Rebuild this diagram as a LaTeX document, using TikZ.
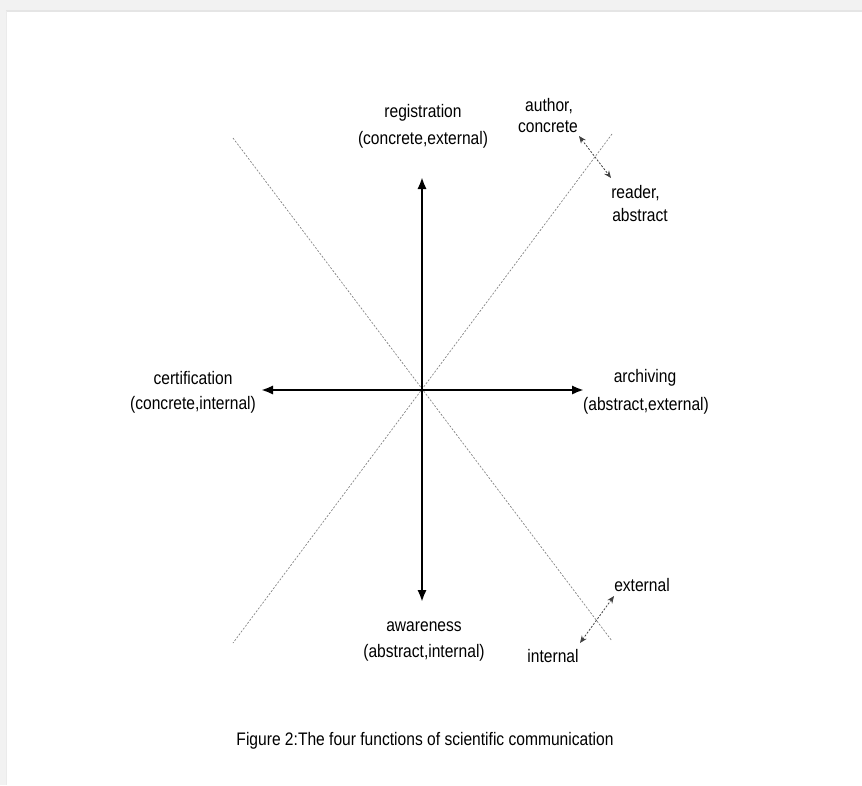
\documentclass[tikz,border=0pt]{standalone}
\usepackage{fontspec}
\setmainfont[FakeStretch=0.86]{Liberation Sans}
\usetikzlibrary{arrows.meta}
\begin{document}
\begin{tikzpicture}[x=0.75pt,y=-0.75pt,
  lbl/.style={inner sep=0pt,font=\fontsize{13.6pt}{16pt}\selectfont,align=center},
  mainarrow/.style={line width=2.1pt,{Latex[length=9pt,width=7pt]}-{Latex[length=9pt,width=7pt]}},
  diag/.style={line width=0.5pt,gray,dash pattern=on 1.5pt off 1.2pt},
  smallarrow/.style={line width=0.6pt,black!75,dash pattern=on 1.5pt off 1.2pt,{Stealth[length=5.5pt,width=4.5pt]}-{Stealth[length=5.5pt,width=4.5pt]}}]
\useasboundingbox (0,0) rectangle (862,785);
\fill[white] (0,0) rectangle (862,785);
\fill[black!5] (0,0) rectangle (862,11);
\fill[black!5] (0,0) rectangle (6,785);
\draw[black!10,line width=1pt] (6,11) -- (862,11);
\draw[black!8,line width=0.6pt] (6,11) -- (6,785);
% geometry
\coordinate (c) at (422,390);
\coordinate (top) at (422,177);
\coordinate (bot) at (422,602);
\coordinate (lft) at (261,390);
\coordinate (rgt) at (584,390);
\coordinate (d1a) at (233,138);
\coordinate (d1b) at (612,641);
\coordinate (d2a) at (612,134);
\coordinate (d2b) at (233,643);
\coordinate (s1a) at (579,136);
\coordinate (s1b) at (611,178);
\coordinate (s2a) at (614,596);
\coordinate (s2b) at (580,643);
\draw[diag] (d1a) -- (d1b);
\draw[diag] (d2a) -- (d2b);
\draw[mainarrow] (top) -- (bot);
\draw[mainarrow] (lft) -- (rgt);
\draw[smallarrow] (s1a) -- (s1b);
\draw[smallarrow] (s2a) -- (s2b);
% labels
\node[lbl] (reg) at (423,113) {registration};
\node[lbl] (reg2) at (423,140) {(concrete,external)};
\node[lbl] (auth) at (549,106) {author,};
\node[lbl] (auth2) at (548,127) {concrete};
\node[lbl,anchor=west] (read) at (611,193) {reader,};
\node[lbl,anchor=west] (read2) at (612,215) {abstract};
\node[lbl] (cert) at (193,378) {certification};
\node[lbl] (cert2) at (193,405) {(concrete,internal)};
\node[lbl] (arch) at (645,378) {archiving};
\node[lbl] (arch2) at (646,406) {(abstract,external)};
\node[lbl] (aw) at (424,627) {awareness};
\node[lbl] (aw2) at (424,653) {(abstract,internal)};
\node[lbl] (ext) at (642,585) {external};
\node[lbl] (int) at (553,656) {internal};
\node[lbl] (cap) at (425,741) {Figure 2:The four functions of scientific communication};
\end{tikzpicture}
\end{document}
